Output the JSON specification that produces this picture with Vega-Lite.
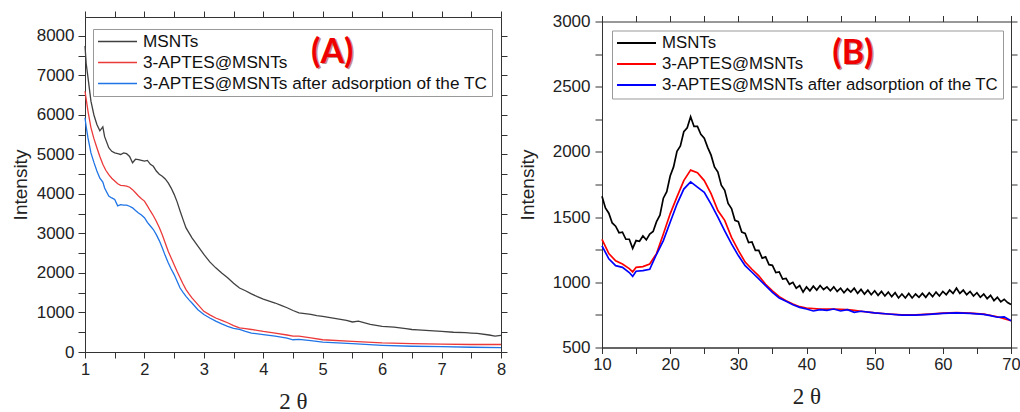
{
  "$schema": "https://vega.github.io/schema/vega-lite/v6.json",
  "padding": {"left": 10, "top": 10, "right": 4, "bottom": 0},
  "background": "white",
  "spacing": 101,
  "bounds": "flush",
  "center": true,
  "config": {"view": {"stroke": "#333", "strokeWidth": 1}},
  "resolve": {"scale": {"color": "independent"}, "legend": {"color": "independent"}},
  "hconcat": [
    {
      "width": 416,
      "height": 335,
      "layer": [
        {
          "data": {"values": [
            {"s":"MSNTs","x":1.0,"y":7750},{"s":"MSNTs","x":1.02,"y":7300},{"s":"MSNTs","x":1.05,"y":6950},{"s":"MSNTs","x":1.1,"y":6350},{"s":"MSNTs","x":1.15,"y":6000},{"s":"MSNTs","x":1.2,"y":5760},{"s":"MSNTs","x":1.25,"y":5600},{"s":"MSNTs","x":1.3,"y":5700},{"s":"MSNTs","x":1.33,"y":5450},{"s":"MSNTs","x":1.4,"y":5170},{"s":"MSNTs","x":1.45,"y":5080},{"s":"MSNTs","x":1.5,"y":5040},{"s":"MSNTs","x":1.55,"y":5020},{"s":"MSNTs","x":1.6,"y":5000},{"s":"MSNTs","x":1.65,"y":5040},{"s":"MSNTs","x":1.7,"y":5020},{"s":"MSNTs","x":1.75,"y":4950},{"s":"MSNTs","x":1.8,"y":4790},{"s":"MSNTs","x":1.85,"y":4880},{"s":"MSNTs","x":1.9,"y":4870},{"s":"MSNTs","x":1.95,"y":4850},{"s":"MSNTs","x":2.0,"y":4830},{"s":"MSNTs","x":2.05,"y":4850},{"s":"MSNTs","x":2.1,"y":4750},{"s":"MSNTs","x":2.15,"y":4700},{"s":"MSNTs","x":2.2,"y":4580},{"s":"MSNTs","x":2.25,"y":4500},{"s":"MSNTs","x":2.3,"y":4450},{"s":"MSNTs","x":2.35,"y":4380},{"s":"MSNTs","x":2.4,"y":4280},{"s":"MSNTs","x":2.45,"y":4150},{"s":"MSNTs","x":2.5,"y":3990},{"s":"MSNTs","x":2.55,"y":3800},{"s":"MSNTs","x":2.6,"y":3570},{"s":"MSNTs","x":2.65,"y":3350},{"s":"MSNTs","x":2.7,"y":3140},{"s":"MSNTs","x":2.8,"y":2890},{"s":"MSNTs","x":2.9,"y":2680},{"s":"MSNTs","x":3.0,"y":2470},{"s":"MSNTs","x":3.1,"y":2280},{"s":"MSNTs","x":3.2,"y":2130},{"s":"MSNTs","x":3.3,"y":2000},{"s":"MSNTs","x":3.4,"y":1880},{"s":"MSNTs","x":3.5,"y":1740},{"s":"MSNTs","x":3.6,"y":1620},{"s":"MSNTs","x":3.7,"y":1550},{"s":"MSNTs","x":3.8,"y":1470},{"s":"MSNTs","x":3.9,"y":1400},{"s":"MSNTs","x":4.0,"y":1340},{"s":"MSNTs","x":4.1,"y":1290},{"s":"MSNTs","x":4.2,"y":1240},{"s":"MSNTs","x":4.3,"y":1180},{"s":"MSNTs","x":4.4,"y":1120},{"s":"MSNTs","x":4.5,"y":1050},{"s":"MSNTs","x":4.6,"y":990},{"s":"MSNTs","x":4.7,"y":970},{"s":"MSNTs","x":4.8,"y":950},{"s":"MSNTs","x":4.9,"y":920},{"s":"MSNTs","x":5.0,"y":900},{"s":"MSNTs","x":5.2,"y":850},{"s":"MSNTs","x":5.4,"y":800},{"s":"MSNTs","x":5.5,"y":760},{"s":"MSNTs","x":5.6,"y":780},{"s":"MSNTs","x":5.8,"y":700},{"s":"MSNTs","x":6.0,"y":650},{"s":"MSNTs","x":6.2,"y":630},{"s":"MSNTs","x":6.4,"y":590},{"s":"MSNTs","x":6.5,"y":570},{"s":"MSNTs","x":6.6,"y":560},{"s":"MSNTs","x":6.8,"y":540},{"s":"MSNTs","x":7.0,"y":520},{"s":"MSNTs","x":7.2,"y":500},{"s":"MSNTs","x":7.4,"y":490},{"s":"MSNTs","x":7.5,"y":480},{"s":"MSNTs","x":7.6,"y":470},{"s":"MSNTs","x":7.8,"y":430},{"s":"MSNTs","x":7.9,"y":400},{"s":"MSNTs","x":8.0,"y":420},
            {"s":"3-APTES@MSNTs","x":1.0,"y":6600},{"s":"3-APTES@MSNTs","x":1.02,"y":6400},{"s":"3-APTES@MSNTs","x":1.05,"y":6100},{"s":"3-APTES@MSNTs","x":1.1,"y":5680},{"s":"3-APTES@MSNTs","x":1.15,"y":5400},{"s":"3-APTES@MSNTs","x":1.2,"y":5170},{"s":"3-APTES@MSNTs","x":1.25,"y":4950},{"s":"3-APTES@MSNTs","x":1.3,"y":4750},{"s":"3-APTES@MSNTs","x":1.35,"y":4600},{"s":"3-APTES@MSNTs","x":1.4,"y":4490},{"s":"3-APTES@MSNTs","x":1.45,"y":4400},{"s":"3-APTES@MSNTs","x":1.5,"y":4330},{"s":"3-APTES@MSNTs","x":1.55,"y":4260},{"s":"3-APTES@MSNTs","x":1.6,"y":4220},{"s":"3-APTES@MSNTs","x":1.65,"y":4210},{"s":"3-APTES@MSNTs","x":1.7,"y":4200},{"s":"3-APTES@MSNTs","x":1.75,"y":4170},{"s":"3-APTES@MSNTs","x":1.8,"y":4110},{"s":"3-APTES@MSNTs","x":1.85,"y":4030},{"s":"3-APTES@MSNTs","x":1.9,"y":3950},{"s":"3-APTES@MSNTs","x":1.95,"y":3880},{"s":"3-APTES@MSNTs","x":2.0,"y":3820},{"s":"3-APTES@MSNTs","x":2.05,"y":3700},{"s":"3-APTES@MSNTs","x":2.1,"y":3570},{"s":"3-APTES@MSNTs","x":2.15,"y":3450},{"s":"3-APTES@MSNTs","x":2.2,"y":3310},{"s":"3-APTES@MSNTs","x":2.25,"y":3150},{"s":"3-APTES@MSNTs","x":2.3,"y":2970},{"s":"3-APTES@MSNTs","x":2.35,"y":2760},{"s":"3-APTES@MSNTs","x":2.4,"y":2550},{"s":"3-APTES@MSNTs","x":2.45,"y":2380},{"s":"3-APTES@MSNTs","x":2.5,"y":2210},{"s":"3-APTES@MSNTs","x":2.55,"y":2040},{"s":"3-APTES@MSNTs","x":2.6,"y":1880},{"s":"3-APTES@MSNTs","x":2.65,"y":1720},{"s":"3-APTES@MSNTs","x":2.7,"y":1580},{"s":"3-APTES@MSNTs","x":2.75,"y":1470},{"s":"3-APTES@MSNTs","x":2.8,"y":1370},{"s":"3-APTES@MSNTs","x":2.9,"y":1200},{"s":"3-APTES@MSNTs","x":3.0,"y":1030},{"s":"3-APTES@MSNTs","x":3.1,"y":940},{"s":"3-APTES@MSNTs","x":3.2,"y":860},{"s":"3-APTES@MSNTs","x":3.3,"y":800},{"s":"3-APTES@MSNTs","x":3.4,"y":740},{"s":"3-APTES@MSNTs","x":3.5,"y":670},{"s":"3-APTES@MSNTs","x":3.6,"y":610},{"s":"3-APTES@MSNTs","x":3.7,"y":590},{"s":"3-APTES@MSNTs","x":3.8,"y":570},{"s":"3-APTES@MSNTs","x":4.0,"y":520},{"s":"3-APTES@MSNTs","x":4.2,"y":480},{"s":"3-APTES@MSNTs","x":4.4,"y":430},{"s":"3-APTES@MSNTs","x":4.5,"y":400},{"s":"3-APTES@MSNTs","x":4.6,"y":400},{"s":"3-APTES@MSNTs","x":4.8,"y":360},{"s":"3-APTES@MSNTs","x":5.0,"y":310},{"s":"3-APTES@MSNTs","x":5.5,"y":270},{"s":"3-APTES@MSNTs","x":6.0,"y":230},{"s":"3-APTES@MSNTs","x":6.5,"y":210},{"s":"3-APTES@MSNTs","x":7.0,"y":200},{"s":"3-APTES@MSNTs","x":7.5,"y":190},{"s":"3-APTES@MSNTs","x":8.0,"y":190},
            {"s":"3-APTES@MSNTs after adsorption of the TC","x":1.0,"y":5930},{"s":"3-APTES@MSNTs after adsorption of the TC","x":1.02,"y":5700},{"s":"3-APTES@MSNTs after adsorption of the TC","x":1.05,"y":5420},{"s":"3-APTES@MSNTs after adsorption of the TC","x":1.1,"y":5040},{"s":"3-APTES@MSNTs after adsorption of the TC","x":1.15,"y":4800},{"s":"3-APTES@MSNTs after adsorption of the TC","x":1.2,"y":4580},{"s":"3-APTES@MSNTs after adsorption of the TC","x":1.25,"y":4400},{"s":"3-APTES@MSNTs after adsorption of the TC","x":1.3,"y":4300},{"s":"3-APTES@MSNTs after adsorption of the TC","x":1.33,"y":4150},{"s":"3-APTES@MSNTs after adsorption of the TC","x":1.4,"y":3950},{"s":"3-APTES@MSNTs after adsorption of the TC","x":1.45,"y":3900},{"s":"3-APTES@MSNTs after adsorption of the TC","x":1.5,"y":3860},{"s":"3-APTES@MSNTs after adsorption of the TC","x":1.55,"y":3700},{"s":"3-APTES@MSNTs after adsorption of the TC","x":1.6,"y":3730},{"s":"3-APTES@MSNTs after adsorption of the TC","x":1.65,"y":3720},{"s":"3-APTES@MSNTs after adsorption of the TC","x":1.7,"y":3720},{"s":"3-APTES@MSNTs after adsorption of the TC","x":1.75,"y":3690},{"s":"3-APTES@MSNTs after adsorption of the TC","x":1.8,"y":3650},{"s":"3-APTES@MSNTs after adsorption of the TC","x":1.85,"y":3580},{"s":"3-APTES@MSNTs after adsorption of the TC","x":1.9,"y":3520},{"s":"3-APTES@MSNTs after adsorption of the TC","x":1.95,"y":3470},{"s":"3-APTES@MSNTs after adsorption of the TC","x":2.0,"y":3400},{"s":"3-APTES@MSNTs after adsorption of the TC","x":2.05,"y":3280},{"s":"3-APTES@MSNTs after adsorption of the TC","x":2.1,"y":3190},{"s":"3-APTES@MSNTs after adsorption of the TC","x":2.15,"y":3100},{"s":"3-APTES@MSNTs after adsorption of the TC","x":2.2,"y":2970},{"s":"3-APTES@MSNTs after adsorption of the TC","x":2.25,"y":2820},{"s":"3-APTES@MSNTs after adsorption of the TC","x":2.3,"y":2640},{"s":"3-APTES@MSNTs after adsorption of the TC","x":2.35,"y":2440},{"s":"3-APTES@MSNTs after adsorption of the TC","x":2.4,"y":2260},{"s":"3-APTES@MSNTs after adsorption of the TC","x":2.45,"y":2100},{"s":"3-APTES@MSNTs after adsorption of the TC","x":2.5,"y":1960},{"s":"3-APTES@MSNTs after adsorption of the TC","x":2.55,"y":1790},{"s":"3-APTES@MSNTs after adsorption of the TC","x":2.6,"y":1620},{"s":"3-APTES@MSNTs after adsorption of the TC","x":2.65,"y":1510},{"s":"3-APTES@MSNTs after adsorption of the TC","x":2.7,"y":1410},{"s":"3-APTES@MSNTs after adsorption of the TC","x":2.75,"y":1320},{"s":"3-APTES@MSNTs after adsorption of the TC","x":2.8,"y":1240},{"s":"3-APTES@MSNTs after adsorption of the TC","x":2.9,"y":1070},{"s":"3-APTES@MSNTs after adsorption of the TC","x":3.0,"y":950},{"s":"3-APTES@MSNTs after adsorption of the TC","x":3.1,"y":860},{"s":"3-APTES@MSNTs after adsorption of the TC","x":3.2,"y":780},{"s":"3-APTES@MSNTs after adsorption of the TC","x":3.3,"y":710},{"s":"3-APTES@MSNTs after adsorption of the TC","x":3.4,"y":650},{"s":"3-APTES@MSNTs after adsorption of the TC","x":3.5,"y":600},{"s":"3-APTES@MSNTs after adsorption of the TC","x":3.6,"y":570},{"s":"3-APTES@MSNTs after adsorption of the TC","x":3.7,"y":520},{"s":"3-APTES@MSNTs after adsorption of the TC","x":3.8,"y":480},{"s":"3-APTES@MSNTs after adsorption of the TC","x":4.0,"y":440},{"s":"3-APTES@MSNTs after adsorption of the TC","x":4.2,"y":400},{"s":"3-APTES@MSNTs after adsorption of the TC","x":4.4,"y":350},{"s":"3-APTES@MSNTs after adsorption of the TC","x":4.5,"y":310},{"s":"3-APTES@MSNTs after adsorption of the TC","x":4.6,"y":320},{"s":"3-APTES@MSNTs after adsorption of the TC","x":4.8,"y":290},{"s":"3-APTES@MSNTs after adsorption of the TC","x":5.0,"y":250},{"s":"3-APTES@MSNTs after adsorption of the TC","x":5.5,"y":210},{"s":"3-APTES@MSNTs after adsorption of the TC","x":6.0,"y":170},{"s":"3-APTES@MSNTs after adsorption of the TC","x":6.5,"y":145},{"s":"3-APTES@MSNTs after adsorption of the TC","x":7.0,"y":135},{"s":"3-APTES@MSNTs after adsorption of the TC","x":7.5,"y":120},{"s":"3-APTES@MSNTs after adsorption of the TC","x":8.0,"y":110}
          ]},
          "mark": {"type": "line", "strokeWidth": 1.3},
          "encoding": {
            "x": {"field": "x", "type": "quantitative", "title": "2 θ",
              "scale": {"domain": [1, 8], "nice": false, "zero": false},
              "axis": {"orient": "bottom", "values": [1,1.5,2,2.5,3,3.5,4,4.5,5,5.5,6,6.5,7,7.5,8],
                "labelExpr": "datum.value % 1 === 0 ? format(datum.value, 'd') : ''",
                "tickSize": 6,
                "encode": {"ticks": {"update": {"y2": {"signal": "datum.value % 1 === 0 ? 6 : 3"}}}},
                "labelFont": "Liberation Sans", "labelFontSize": 16.5, "labelColor": "#222", "labelPadding": 3,
                "labelOverlap": false, "labelFlush": false,
                "titleFont": "Liberation Serif", "titleFontSize": 23, "titleFontWeight": "normal", "titleColor": "#222", "titlePadding": 12.5,
                "domainColor": "#333", "tickColor": "#333", "grid": false}},
            "y": {"field": "y", "type": "quantitative", "title": "Intensity",
              "scale": {"domain": [0, 8480], "nice": false},
              "axis": {"orient": "left", "values": [0,500,1000,1500,2000,2500,3000,3500,4000,4500,5000,5500,6000,6500,7000,7500,8000],
                "labelExpr": "datum.value % 1000 === 0 ? format(datum.value, 'd') : ''",
                "tickSize": 7,
                "encode": {"ticks": {"update": {"x2": {"signal": "datum.value % 1000 === 0 ? -7 : -4"}}}},
                "labelFont": "Liberation Sans", "labelFontSize": 17, "labelColor": "#222", "labelPadding": 4,
                "labelOverlap": false,
                "titleFont": "Liberation Sans", "titleFontSize": 19, "titleFontWeight": "normal", "titleColor": "#222", "titlePadding": 6,
                "domainColor": "#333", "tickColor": "#333", "grid": false}},
            "color": {"field": "s", "type": "nominal",
              "scale": {"domain": ["MSNTs", "3-APTES@MSNTs", "3-APTES@MSNTs after adsorption of the TC"], "range": ["#404040", "#ec3a3a", "#1f74e6"]},
              "legend": {"orient": "none", "legendX": 8, "legendY": 12, "title": null, "symbolType": "stroke", "symbolSize": 1521, "symbolStrokeWidth": 1.6,
                "labelFont": "Liberation Sans", "labelFontSize": 17.2, "labelColor": "#111", "labelLimit": 500, "labelOffset": 5,
                "strokeColor": "#999", "padding": 4, "rowPadding": 3, "clipHeight": 17}}
          }
        },
        {
          "data": {"values": [{"x": 5.16, "y": 7570, "t": "(A)"}]},
          "mark": {"type": "text", "font": "Lato", "fontWeight": "bold", "fontSize": 34, "color": "#7a0000", "opacity": 0.45, "dx": 1.5, "dy": 1.5, "baseline": "middle", "align": "center"},
          "encoding": {
            "x": {"field": "x", "type": "quantitative", "axis": null},
            "y": {"field": "y", "type": "quantitative", "axis": null},
            "text": {"field": "t"}
          }
        },
        {
          "data": {"values": [{"x": 5.16, "y": 7570, "t": "(A)"}]},
          "mark": {"type": "text", "font": "Lato", "fontWeight": "bold", "fontSize": 34, "color": "#ee0000", "baseline": "middle", "align": "center"},
          "encoding": {
            "x": {"field": "x", "type": "quantitative",
              "axis": {"orient": "top", "title": null, "labels": false, "values": [1,1.5,2,2.5,3,3.5,4,4.5,5,5.5,6,6.5,7,7.5,8],
                "tickSize": 6, "domain": false,
                "encode": {"ticks": {"update": {"y2": {"signal": "datum.value % 1 === 0 ? 6 : 3"}}}},
                "tickColor": "#333", "grid": false}},
            "y": {"field": "y", "type": "quantitative",
              "axis": {"orient": "right", "title": null, "labels": false, "values": [0,500,1000,1500,2000,2500,3000,3500,4000,4500,5000,5500,6000,6500,7000,7500,8000],
                "tickSize": 6, "domain": false,
                "encode": {"ticks": {"update": {"x2": {"signal": "datum.value % 1000 === 0 ? -6 : -3"}}}},
                "tickColor": "#333", "grid": false}},
            "text": {"field": "t"}
          }
        }
      ],
      "resolve": {"axis": {"x": "independent", "y": "independent"}}
    },
    {
      "width": 409,
      "height": 326,
      "layer": [
        {
          "data": {"values": [
            {"s":"MSNTs","x":10,"y":1660},{"s":"MSNTs","x":10.5,"y":1570},{"s":"MSNTs","x":11,"y":1530},{"s":"MSNTs","x":11.5,"y":1455},{"s":"MSNTs","x":12,"y":1430},{"s":"MSNTs","x":12.5,"y":1380},{"s":"MSNTs","x":13,"y":1385},{"s":"MSNTs","x":13.5,"y":1330},{"s":"MSNTs","x":14,"y":1330},{"s":"MSNTs","x":14.5,"y":1260},{"s":"MSNTs","x":15,"y":1320},{"s":"MSNTs","x":15.5,"y":1315},{"s":"MSNTs","x":16,"y":1355},{"s":"MSNTs","x":16.5,"y":1325},{"s":"MSNTs","x":17,"y":1370},{"s":"MSNTs","x":17.5,"y":1390},{"s":"MSNTs","x":18,"y":1465},{"s":"MSNTs","x":18.5,"y":1515},{"s":"MSNTs","x":19,"y":1645},{"s":"MSNTs","x":19.5,"y":1695},{"s":"MSNTs","x":20,"y":1815},{"s":"MSNTs","x":20.5,"y":1885},{"s":"MSNTs","x":21,"y":2005},{"s":"MSNTs","x":21.5,"y":2045},{"s":"MSNTs","x":22,"y":2155},{"s":"MSNTs","x":22.5,"y":2185},{"s":"MSNTs","x":23,"y":2270},{"s":"MSNTs","x":23.5,"y":2195},{"s":"MSNTs","x":24,"y":2195},{"s":"MSNTs","x":24.5,"y":2135},{"s":"MSNTs","x":25,"y":2105},{"s":"MSNTs","x":25.5,"y":2035},{"s":"MSNTs","x":26,"y":1975},{"s":"MSNTs","x":26.5,"y":1885},{"s":"MSNTs","x":27,"y":1845},{"s":"MSNTs","x":27.5,"y":1745},{"s":"MSNTs","x":28,"y":1705},{"s":"MSNTs","x":28.5,"y":1605},{"s":"MSNTs","x":29,"y":1565},{"s":"MSNTs","x":29.5,"y":1475},{"s":"MSNTs","x":30,"y":1465},{"s":"MSNTs","x":30.5,"y":1385},{"s":"MSNTs","x":31,"y":1375},{"s":"MSNTs","x":31.5,"y":1305},{"s":"MSNTs","x":32,"y":1310},{"s":"MSNTs","x":32.5,"y":1245},{"s":"MSNTs","x":33,"y":1245},{"s":"MSNTs","x":33.5,"y":1185},{"s":"MSNTs","x":34,"y":1195},{"s":"MSNTs","x":34.5,"y":1135},{"s":"MSNTs","x":35,"y":1130},{"s":"MSNTs","x":35.5,"y":1075},{"s":"MSNTs","x":36,"y":1080},{"s":"MSNTs","x":36.5,"y":1025},{"s":"MSNTs","x":37,"y":1030},{"s":"MSNTs","x":37.5,"y":985},{"s":"MSNTs","x":38,"y":1000},{"s":"MSNTs","x":38.5,"y":955},{"s":"MSNTs","x":39,"y":975},{"s":"MSNTs","x":39.5,"y":925},{"s":"MSNTs","x":40,"y":965},{"s":"MSNTs","x":40.5,"y":935},{"s":"MSNTs","x":41,"y":970},{"s":"MSNTs","x":41.5,"y":940},{"s":"MSNTs","x":42,"y":975},{"s":"MSNTs","x":42.5,"y":945},{"s":"MSNTs","x":43,"y":965},{"s":"MSNTs","x":43.5,"y":935},{"s":"MSNTs","x":44,"y":965},{"s":"MSNTs","x":44.5,"y":930},{"s":"MSNTs","x":45,"y":955},{"s":"MSNTs","x":45.5,"y":920},{"s":"MSNTs","x":46,"y":950},{"s":"MSNTs","x":46.5,"y":925},{"s":"MSNTs","x":47,"y":955},{"s":"MSNTs","x":47.5,"y":915},{"s":"MSNTs","x":48,"y":945},{"s":"MSNTs","x":48.5,"y":910},{"s":"MSNTs","x":49,"y":940},{"s":"MSNTs","x":49.5,"y":905},{"s":"MSNTs","x":50,"y":935},{"s":"MSNTs","x":50.5,"y":900},{"s":"MSNTs","x":51,"y":930},{"s":"MSNTs","x":51.5,"y":895},{"s":"MSNTs","x":52,"y":925},{"s":"MSNTs","x":52.5,"y":890},{"s":"MSNTs","x":53,"y":920},{"s":"MSNTs","x":53.5,"y":880},{"s":"MSNTs","x":54,"y":910},{"s":"MSNTs","x":54.5,"y":880},{"s":"MSNTs","x":55,"y":915},{"s":"MSNTs","x":55.5,"y":880},{"s":"MSNTs","x":56,"y":910},{"s":"MSNTs","x":56.5,"y":885},{"s":"MSNTs","x":57,"y":915},{"s":"MSNTs","x":57.5,"y":885},{"s":"MSNTs","x":58,"y":920},{"s":"MSNTs","x":58.5,"y":890},{"s":"MSNTs","x":59,"y":925},{"s":"MSNTs","x":59.5,"y":895},{"s":"MSNTs","x":60,"y":930},{"s":"MSNTs","x":60.5,"y":905},{"s":"MSNTs","x":61,"y":940},{"s":"MSNTs","x":61.5,"y":915},{"s":"MSNTs","x":62,"y":955},{"s":"MSNTs","x":62.5,"y":915},{"s":"MSNTs","x":63,"y":940},{"s":"MSNTs","x":63.5,"y":905},{"s":"MSNTs","x":64,"y":930},{"s":"MSNTs","x":64.5,"y":895},{"s":"MSNTs","x":65,"y":920},{"s":"MSNTs","x":65.5,"y":885},{"s":"MSNTs","x":66,"y":910},{"s":"MSNTs","x":66.5,"y":875},{"s":"MSNTs","x":67,"y":900},{"s":"MSNTs","x":67.5,"y":860},{"s":"MSNTs","x":68,"y":885},{"s":"MSNTs","x":68.5,"y":850},{"s":"MSNTs","x":69,"y":870},{"s":"MSNTs","x":69.5,"y":845},{"s":"MSNTs","x":70,"y":830},
            {"s":"3-APTES@MSNTs","x":10,"y":1330},{"s":"3-APTES@MSNTs","x":11,"y":1220},{"s":"3-APTES@MSNTs","x":12,"y":1165},{"s":"3-APTES@MSNTs","x":13,"y":1140},{"s":"3-APTES@MSNTs","x":14,"y":1105},{"s":"3-APTES@MSNTs","x":14.5,"y":1080},{"s":"3-APTES@MSNTs","x":15,"y":1115},{"s":"3-APTES@MSNTs","x":16,"y":1120},{"s":"3-APTES@MSNTs","x":17,"y":1140},{"s":"3-APTES@MSNTs","x":18,"y":1220},{"s":"3-APTES@MSNTs","x":19,"y":1370},{"s":"3-APTES@MSNTs","x":20,"y":1525},{"s":"3-APTES@MSNTs","x":21,"y":1655},{"s":"3-APTES@MSNTs","x":22,"y":1780},{"s":"3-APTES@MSNTs","x":23,"y":1860},{"s":"3-APTES@MSNTs","x":24,"y":1840},{"s":"3-APTES@MSNTs","x":25,"y":1780},{"s":"3-APTES@MSNTs","x":26,"y":1680},{"s":"3-APTES@MSNTs","x":27,"y":1550},{"s":"3-APTES@MSNTs","x":28,"y":1475},{"s":"3-APTES@MSNTs","x":29,"y":1345},{"s":"3-APTES@MSNTs","x":30,"y":1245},{"s":"3-APTES@MSNTs","x":31,"y":1155},{"s":"3-APTES@MSNTs","x":32,"y":1100},{"s":"3-APTES@MSNTs","x":33,"y":1050},{"s":"3-APTES@MSNTs","x":34,"y":985},{"s":"3-APTES@MSNTs","x":35,"y":935},{"s":"3-APTES@MSNTs","x":36,"y":890},{"s":"3-APTES@MSNTs","x":37,"y":858},{"s":"3-APTES@MSNTs","x":38,"y":833},{"s":"3-APTES@MSNTs","x":39,"y":813},{"s":"3-APTES@MSNTs","x":40,"y":803},{"s":"3-APTES@MSNTs","x":42,"y":795},{"s":"3-APTES@MSNTs","x":44,"y":795},{"s":"3-APTES@MSNTs","x":46,"y":790},{"s":"3-APTES@MSNTs","x":47,"y":785},{"s":"3-APTES@MSNTs","x":48,"y":778},{"s":"3-APTES@MSNTs","x":50,"y":765},{"s":"3-APTES@MSNTs","x":52,"y":757},{"s":"3-APTES@MSNTs","x":54,"y":750},{"s":"3-APTES@MSNTs","x":56,"y":750},{"s":"3-APTES@MSNTs","x":58,"y":756},{"s":"3-APTES@MSNTs","x":60,"y":764},{"s":"3-APTES@MSNTs","x":62,"y":768},{"s":"3-APTES@MSNTs","x":64,"y":764},{"s":"3-APTES@MSNTs","x":66,"y":756},{"s":"3-APTES@MSNTs","x":68,"y":736},{"s":"3-APTES@MSNTs","x":70,"y":705},
            {"s":"3-APTES@MSNTs after adsorption of the TC","x":10,"y":1280},{"s":"3-APTES@MSNTs after adsorption of the TC","x":11,"y":1180},{"s":"3-APTES@MSNTs after adsorption of the TC","x":12,"y":1128},{"s":"3-APTES@MSNTs after adsorption of the TC","x":13,"y":1115},{"s":"3-APTES@MSNTs after adsorption of the TC","x":14,"y":1075},{"s":"3-APTES@MSNTs after adsorption of the TC","x":14.5,"y":1045},{"s":"3-APTES@MSNTs after adsorption of the TC","x":15,"y":1085},{"s":"3-APTES@MSNTs after adsorption of the TC","x":16,"y":1090},{"s":"3-APTES@MSNTs after adsorption of the TC","x":17,"y":1100},{"s":"3-APTES@MSNTs after adsorption of the TC","x":18,"y":1215},{"s":"3-APTES@MSNTs after adsorption of the TC","x":19,"y":1320},{"s":"3-APTES@MSNTs after adsorption of the TC","x":20,"y":1460},{"s":"3-APTES@MSNTs after adsorption of the TC","x":21,"y":1600},{"s":"3-APTES@MSNTs after adsorption of the TC","x":22,"y":1715},{"s":"3-APTES@MSNTs after adsorption of the TC","x":23,"y":1770},{"s":"3-APTES@MSNTs after adsorption of the TC","x":24,"y":1730},{"s":"3-APTES@MSNTs after adsorption of the TC","x":25,"y":1690},{"s":"3-APTES@MSNTs after adsorption of the TC","x":26,"y":1600},{"s":"3-APTES@MSNTs after adsorption of the TC","x":27,"y":1500},{"s":"3-APTES@MSNTs after adsorption of the TC","x":28,"y":1395},{"s":"3-APTES@MSNTs after adsorption of the TC","x":29,"y":1295},{"s":"3-APTES@MSNTs after adsorption of the TC","x":30,"y":1205},{"s":"3-APTES@MSNTs after adsorption of the TC","x":31,"y":1128},{"s":"3-APTES@MSNTs after adsorption of the TC","x":32,"y":1077},{"s":"3-APTES@MSNTs after adsorption of the TC","x":33,"y":1026},{"s":"3-APTES@MSNTs after adsorption of the TC","x":34,"y":974},{"s":"3-APTES@MSNTs after adsorption of the TC","x":35,"y":923},{"s":"3-APTES@MSNTs after adsorption of the TC","x":36,"y":880},{"s":"3-APTES@MSNTs after adsorption of the TC","x":37,"y":854},{"s":"3-APTES@MSNTs after adsorption of the TC","x":38,"y":828},{"s":"3-APTES@MSNTs after adsorption of the TC","x":39,"y":808},{"s":"3-APTES@MSNTs after adsorption of the TC","x":40,"y":795},{"s":"3-APTES@MSNTs after adsorption of the TC","x":41,"y":780},{"s":"3-APTES@MSNTs after adsorption of the TC","x":42,"y":790},{"s":"3-APTES@MSNTs after adsorption of the TC","x":43,"y":785},{"s":"3-APTES@MSNTs after adsorption of the TC","x":44,"y":795},{"s":"3-APTES@MSNTs after adsorption of the TC","x":45,"y":780},{"s":"3-APTES@MSNTs after adsorption of the TC","x":46,"y":790},{"s":"3-APTES@MSNTs after adsorption of the TC","x":47,"y":770},{"s":"3-APTES@MSNTs after adsorption of the TC","x":48,"y":778},{"s":"3-APTES@MSNTs after adsorption of the TC","x":50,"y":765},{"s":"3-APTES@MSNTs after adsorption of the TC","x":52,"y":757},{"s":"3-APTES@MSNTs after adsorption of the TC","x":54,"y":748},{"s":"3-APTES@MSNTs after adsorption of the TC","x":56,"y":748},{"s":"3-APTES@MSNTs after adsorption of the TC","x":58,"y":754},{"s":"3-APTES@MSNTs after adsorption of the TC","x":60,"y":762},{"s":"3-APTES@MSNTs after adsorption of the TC","x":62,"y":766},{"s":"3-APTES@MSNTs after adsorption of the TC","x":64,"y":762},{"s":"3-APTES@MSNTs after adsorption of the TC","x":66,"y":754},{"s":"3-APTES@MSNTs after adsorption of the TC","x":67,"y":745},{"s":"3-APTES@MSNTs after adsorption of the TC","x":68,"y":732},{"s":"3-APTES@MSNTs after adsorption of the TC","x":69,"y":735},{"s":"3-APTES@MSNTs after adsorption of the TC","x":70,"y":705}
          ]},
          "mark": {"type": "line", "strokeWidth": 1.7},
          "encoding": {
            "x": {"field": "x", "type": "quantitative", "title": "2 θ",
              "scale": {"domain": [10, 70], "nice": false, "zero": false},
              "axis": {"orient": "bottom", "values": [10,15,20,25,30,35,40,45,50,55,60,65,70],
                "labelExpr": "datum.value % 10 === 0 ? format(datum.value, 'd') : ''",
                "tickSize": 6,
                "encode": {"ticks": {"update": {"y2": {"signal": "datum.value % 10 === 0 ? 6 : 3"}}}},
                "labelFont": "Liberation Sans", "labelFontSize": 16.5, "labelColor": "#222", "labelPadding": 3,
                "labelOverlap": false, "labelFlush": false,
                "titleFont": "Liberation Serif", "titleFontSize": 23, "titleFontWeight": "normal", "titleColor": "#222", "titlePadding": 12.5,
                "domainColor": "#333", "tickColor": "#333", "grid": false}},
            "y": {"field": "y", "type": "quantitative", "title": "Intensity",
              "scale": {"domain": [500, 3000], "nice": false, "zero": false},
              "axis": {"orient": "left", "values": [500,750,1000,1250,1500,1750,2000,2250,2500,2750,3000],
                "labelExpr": "datum.value % 500 === 0 ? format(datum.value, 'd') : ''",
                "tickSize": 7,
                "encode": {"ticks": {"update": {"x2": {"signal": "datum.value % 500 === 0 ? -7 : -4"}}}},
                "labelFont": "Liberation Sans", "labelFontSize": 17, "labelColor": "#222", "labelPadding": 5,
                "labelOverlap": false,
                "titleFont": "Liberation Sans", "titleFontSize": 19, "titleFontWeight": "normal", "titleColor": "#222", "titlePadding": 15,
                "domainColor": "#333", "tickColor": "#333", "grid": false}},
            "color": {"field": "s", "type": "nominal",
              "scale": {"domain": ["MSNTs", "3-APTES@MSNTs", "3-APTES@MSNTs after adsorption of the TC"], "range": ["#000000", "#ff0000", "#0000ff"]},
              "legend": {"orient": "none", "legendX": 10, "legendY": 9, "title": null, "symbolType": "stroke", "symbolSize": 1521, "symbolStrokeWidth": 1.8,
                "labelFont": "Liberation Sans", "labelFontSize": 16.8, "labelColor": "#111", "labelLimit": 500, "labelOffset": 5,
                "strokeColor": "#999", "padding": 4, "rowPadding": 3, "clipHeight": 17}}
          }
        },
        {
          "data": {"values": [{"x": 46.8, "y": 2752, "t": "(B)"}]},
          "mark": {"type": "text", "font": "Lato", "fontWeight": "bold", "fontSize": 34, "color": "#7a0000", "opacity": 0.45, "dx": 1.5, "dy": 1.5, "baseline": "middle", "align": "center"},
          "encoding": {
            "x": {"field": "x", "type": "quantitative", "axis": null},
            "y": {"field": "y", "type": "quantitative", "axis": null},
            "text": {"field": "t"}
          }
        },
        {
          "data": {"values": [{"x": 46.8, "y": 2752, "t": "(B)"}]},
          "mark": {"type": "text", "font": "Lato", "fontWeight": "bold", "fontSize": 34, "color": "#ee0000", "baseline": "middle", "align": "center"},
          "encoding": {
            "x": {"field": "x", "type": "quantitative",
              "axis": {"orient": "top", "title": null, "labels": false, "values": [10,15,20,25,30,35,40,45,50,55,60,65,70],
                "tickSize": 6, "domain": false,
                "encode": {"ticks": {"update": {"y2": {"signal": "datum.value % 10 === 0 ? 6 : 3"}}}},
                "tickColor": "#333", "grid": false}},
            "y": {"field": "y", "type": "quantitative",
              "axis": {"orient": "right", "title": null, "labels": false, "values": [500,750,1000,1250,1500,1750,2000,2250,2500,2750,3000],
                "tickSize": 6, "domain": false,
                "encode": {"ticks": {"update": {"x2": {"signal": "datum.value % 500 === 0 ? -6 : -3"}}}},
                "tickColor": "#333", "grid": false}},
            "text": {"field": "t"}
          }
        }
      ],
      "resolve": {"axis": {"x": "independent", "y": "independent"}}
    }
  ]
}
